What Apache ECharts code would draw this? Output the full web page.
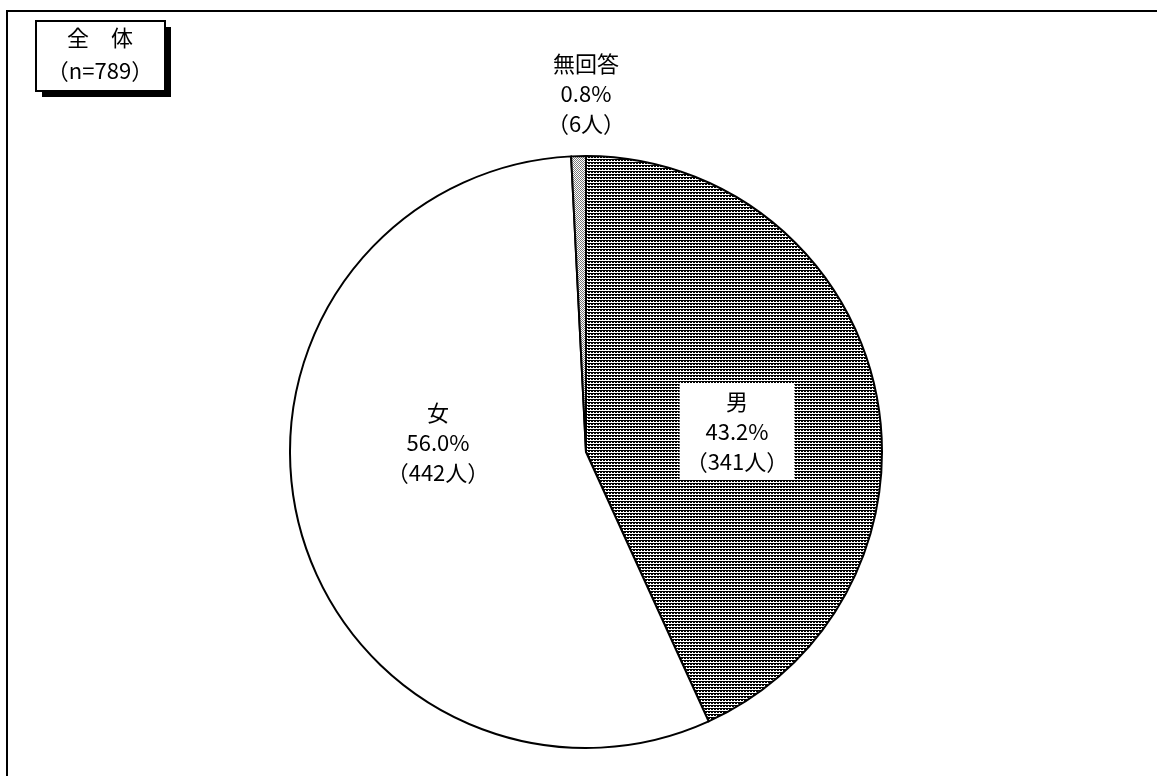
<!DOCTYPE html>
<html><head><meta charset="utf-8">
<script src="https://cdn.jsdelivr.net/npm/echarts@6/dist/echarts.min.js"></script>
<style>html,body{margin:0;padding:0;background:#fff}#c{width:1157px;height:776px}</style>
</head><body><div id="c"></div>
<script>
const categories = ['男', '女', '無回答'];
const percents = [43.2, 56.0, 0.8];
const counts = [341, 442, 6];
const titleLines = ['全　体', '（n=789）'];

const FONT = '"Noto Sans CJK JP", "Noto Sans", sans-serif';

function makeTile(size, pixels, bg, fg) {
  const c = document.createElement('canvas');
  c.width = size; c.height = size;
  const g = c.getContext('2d');
  g.fillStyle = bg; g.fillRect(0, 0, size, size);
  g.fillStyle = fg;
  pixels.forEach(p => g.fillRect(p[0], p[1], 1, 1));
  return c;
}
const maleTile = makeTile(3, [[0,0],[1,0],[2,0],[0,1],[1,1]], '#ffffff', '#000000');
const naTile = makeTile(2, [[0,0],[1,1]], '#ffffff', '#7a7a7a');

const fills = [
  { image: maleTile, repeat: 'repeat' },
  '#ffffff',
  { image: naTile, repeat: 'repeat' }
];

const CX = 586, CY = 452, R = 296;

const chart = echarts.init(document.getElementById('c'), null, { renderer: 'canvas' });

const data = categories.map((n, i) => ({
  name: n,
  value: percents[i],
  itemStyle: { color: fills[i] },
  label: i === 0 ? { backgroundColor: '#ffffff', padding: [3, 6, 3, 6] } : {}
}));

// label anchor offsets relative to pie center, in units of radius
const labelOffsets = [[0.51, -0.07], [-0.50, -0.03], [0, -1.21]];

chart.setOption({
  animation: false,
  backgroundColor: '#ffffff',
  graphic: [
    { type: 'rect', shape: { x: 7, y: 11, width: 1200, height: 800 },
      style: { fill: 'none', stroke: '#000', lineWidth: 2 } },
    { type: 'rect', shape: { x: 42, y: 27, width: 129, height: 70 },
      style: { fill: '#000' } },
    { type: 'rect', shape: { x: 36, y: 21, width: 129, height: 70 },
      style: { fill: '#fff', stroke: '#000', lineWidth: 2 } },
    { type: 'text', x: 100, y: 38, style: { text: titleLines[0], font: '22px ' + FONT, fill: '#000', align: 'center', verticalAlign: 'middle' } },
    { type: 'text', x: 100, y: 71, style: { text: titleLines[1], font: '22px ' + FONT, fill: '#000', align: 'center', verticalAlign: 'middle' } }
  ],
  series: [{
    type: 'pie',
    center: [CX, CY],
    radius: R,
    startAngle: 90,
    clockwise: true,
    data: data,
    itemStyle: { borderColor: '#000', borderWidth: 2 },
    label: {
      show: true,
      position: 'inside',
      color: '#000',
      fontFamily: FONT,
      fontSize: 22,
      lineHeight: 30,
      align: 'center',
      formatter: p => p.name + '\n' + percents[p.dataIndex].toFixed(1) + '%\n（' + counts[p.dataIndex] + '人）'
    },
    labelLine: { show: false },
    labelLayout: p => {
      const o = labelOffsets[p.dataIndex];
      return { x: CX + o[0] * R, y: CY + o[1] * R, align: 'center', verticalAlign: 'middle' };
    },
    emphasis: { disabled: true }
  }]
});
</script></body></html>
